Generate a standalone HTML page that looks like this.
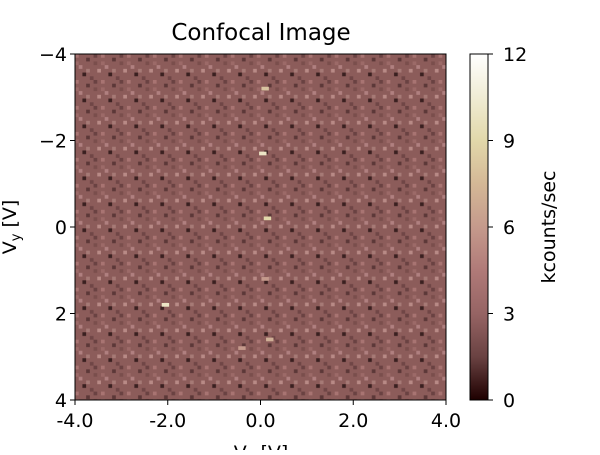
<!DOCTYPE html>
<html><head><meta charset="utf-8"><style>
body{margin:0;background:#fff;font-family:"Liberation Sans","DejaVu Sans",sans-serif}
svg text{font-family:"DejaVu Sans","Liberation Sans",sans-serif;fill:#000}
</style></head><body>
<svg id="c" width="600" height="450">
<defs>
<linearGradient id="cb" x1="0" y1="1" x2="0" y2="0">
<stop offset="0" stop-color="#1e0000"/>
<stop offset="0.125" stop-color="#6a4242"/>
<stop offset="0.25" stop-color="#966464"/>
<stop offset="0.375" stop-color="#b07a78"/>
<stop offset="0.5" stop-color="#c59a8c"/>
<stop offset="0.625" stop-color="#d4b896"/>
<stop offset="0.75" stop-color="#e2d8aa"/>
<stop offset="0.875" stop-color="#f0ecd4"/>
<stop offset="1" stop-color="#ffffff"/>
</linearGradient>
<pattern id="noise" width="25.97" height="25.97" patternUnits="userSpaceOnUse" x="75" y="54">
<rect width="25.97" height="25.97" fill="#8c5c5a"/>
<rect x="0" y="0" width="3.71" height="3.71" fill="#a87472"/>
<rect x="11.13" y="3.71" width="3.71" height="3.71" fill="#5c3838"/>
<rect x="3.71" y="11.13" width="3.71" height="3.71" fill="#b08080"/>
<rect x="18.55" y="7.42" width="3.71" height="3.71" fill="#7a4e4c"/>
<rect x="7.42" y="18.55" width="3.71" height="3.71" fill="#3a2020"/>
<rect x="22.26" y="14.84" width="3.71" height="3.71" fill="#b88a86"/>
<rect x="14.84" y="22.26" width="3.71" height="3.71" fill="#704646"/>
<rect x="0" y="7.42" width="3.71" height="3.71" fill="#9c6a68"/>
<rect x="18.55" y="0" width="3.71" height="3.71" fill="#6a4242"/>
<rect x="11.13" y="14.84" width="3.71" height="3.71" fill="#a67a76"/>
</pattern>
</defs>
<text x="261" y="40" font-size="23" text-anchor="middle">Confocal Image</text>
<rect x="75" y="54" width="371" height="346" fill="url(#noise)"/>
<g id="spots"></g>
<rect x="75" y="54" width="371" height="346" fill="none" stroke="#000" stroke-width="1"/>
<g id="axes"></g>
<rect x="470" y="54" width="18" height="346" fill="url(#cb)" stroke="#000" stroke-width="1"/>
<text transform="translate(555,227) rotate(-90)" font-size="19" text-anchor="middle">kcounts/sec</text>
<text transform="translate(16,227) rotate(-90)" font-size="19" text-anchor="middle">V<tspan font-size="13" dy="4">y</tspan><tspan dy="-4"> [V]</tspan></text>
<text x="261" y="459" font-size="19" text-anchor="middle">V<tspan font-size="13" dy="4">x</tspan><tspan dy="-4"> [V]</tspan></text>
</svg>
<script>
const spotX=[0.1,0.05,0.15,0.1,-2.05,0.2,-0.4];
const spotY=[-3.2,-1.7,-0.2,1.2,1.8,2.6,2.8];
const spotV=[8,10,9,6,10,7,6];
const xTicks=[-4,-2,0,2,4];
const xTickLabels=["-4.0","-2.0","0.0","2.0","4.0"];
const yTicks=[-4,-2,0,2,4];
const yTickLabels=["\u22124","\u22122","0","2","4"];
const cbTicks=[0,3,6,9,12];
const NS="http://www.w3.org/2000/svg";
const X0=75,X1=446,Y0=54,Y1=400,CB0=400,CB1=54;
const sx=v=>X0+(v+4)/8*(X1-X0);
const sy=v=>Y0+(v+4)/8*(Y1-Y0);
const sc=v=>CB0+(v/12)*(CB1-CB0);
function col(v){const t=v/12;const s=[[0,30,0,0],[.25,150,100,100],[.5,197,154,140],[.75,226,216,170],[1,255,255,255]];
for(let i=1;i<s.length;i++){if(t<=s[i][0]){const a=s[i-1],b=s[i],f=(t-a[0])/(b[0]-a[0]);return `rgb(${Math.round(a[1]+f*(b[1]-a[1]))},${Math.round(a[2]+f*(b[2]-a[2]))},${Math.round(a[3]+f*(b[3]-a[3]))})`;}}return "#fff";}
const cell=3.71;
const sp=document.getElementById('spots');
spotX.forEach((x,i)=>{const r=document.createElementNS(NS,'rect');


r.setAttribute('x',sx(x)-cell);r.setAttribute('y',sy(spotY[i])-cell/2);r.setAttribute('width',cell*2);r.setAttribute('height',cell);r.setAttribute('fill',col(spotV[i]));sp.appendChild(r);});
const ax=document.getElementById('axes');
function line(x1,y1,x2,y2){const l=document.createElementNS(NS,'line');l.setAttribute('x1',x1);l.setAttribute('y1',y1);l.setAttribute('x2',x2);l.setAttribute('y2',y2);l.setAttribute('stroke','#000');return l;}
function text(x,y,s,anchor){const t=document.createElementNS(NS,'text');t.setAttribute('x',x);t.setAttribute('y',y);t.setAttribute('font-size','19');t.setAttribute('text-anchor',anchor);t.textContent=s;return t;}
xTicks.forEach((v,i)=>{const l=line(sx(v),Y1,sx(v),Y1+5);

ax.appendChild(l);
const t=text(sx(v),Y1+27,xTickLabels[i],'middle');

ax.appendChild(t);});
yTicks.forEach((v,i)=>{const l=line(X0-5,sy(v),X0,sy(v));

ax.appendChild(l);
const t=text(X0-8,sy(v)+7,yTickLabels[i],'end');

ax.appendChild(t);});
cbTicks.forEach(v=>{const l=line(488,sc(v),493,sc(v));

ax.appendChild(l);
const t=text(503,sc(v)+7,String(v),'start');

ax.appendChild(t);});
</script>
</body></html>
